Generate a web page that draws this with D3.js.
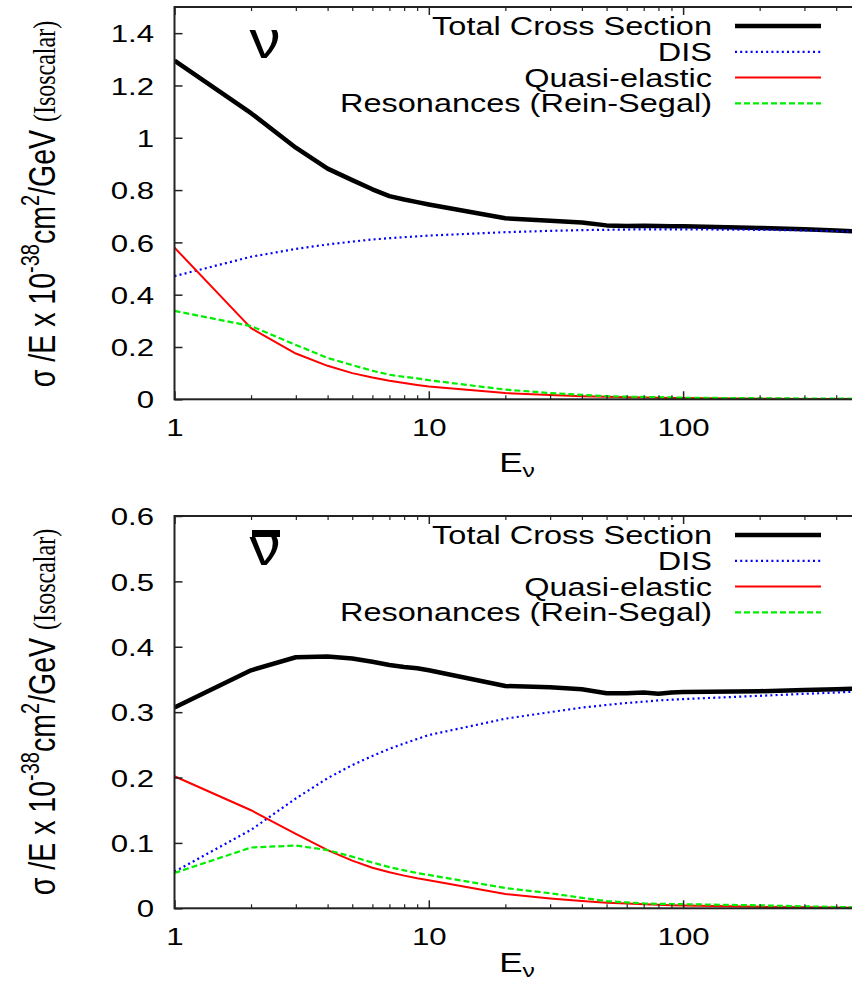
<!DOCTYPE html>
<html>
<head>
<meta charset="utf-8">
<script src="https://cdn.jsdelivr.net/npm/d3@7"></script>
<style>
  html, body { margin: 0; padding: 0; background: #fff; }
  svg { display: block; }
  text { font-family: "Liberation Sans", Arial, Helvetica, sans-serif; fill: #000; }
</style>
</head>
<body>
<svg id="chart" width="852" height="987"></svg>
<script>
// Neutrino energies (GeV) at which the cross sections are tabulated
const energies = [1, 2, 3, 4, 5, 6, 7, 8, 9, 10, 20, 30, 40, 50, 60, 70, 80, 90, 100, 200, 300, 400, 500];

// Neutrino (nu) cross sections, sigma/E in 1e-38 cm^2/GeV
const nuTotal = [1.295, 1.094, 0.962, 0.882, 0.838, 0.803, 0.777, 0.764, 0.754, 0.745, 0.692, 0.683, 0.676, 0.665, 0.663, 0.664, 0.663, 0.662, 0.662, 0.655, 0.650, 0.645, 0.641];
const nuDIS = [0.471, 0.545, 0.575, 0.592, 0.603, 0.611, 0.616, 0.620, 0.623, 0.626, 0.639, 0.644, 0.647, 0.648, 0.649, 0.650, 0.650, 0.650, 0.650, 0.648, 0.646, 0.643, 0.640];
const nuQE = [0.580, 0.272, 0.175, 0.128, 0.100, 0.083, 0.071, 0.062, 0.055, 0.049, 0.024, 0.016, 0.012, 0.0095, 0.008, 0.007, 0.006, 0.0053, 0.0048, 0.0024, 0.0016, 0.0012, 0.001];
const nuRes = [0.338, 0.280, 0.208, 0.158, 0.131, 0.109, 0.094, 0.086, 0.080, 0.073, 0.037, 0.024, 0.017, 0.012, 0.010, 0.009, 0.008, 0.007, 0.006, 0.004, 0.003, 0.0025, 0.002];

// Antineutrino (nu-bar) cross sections
const nubarTotal = [0.307, 0.364, 0.384, 0.385, 0.382, 0.377, 0.372, 0.369, 0.367, 0.364, 0.340, 0.338, 0.335, 0.329, 0.329, 0.330, 0.328, 0.330, 0.331, 0.332, 0.334, 0.335, 0.336];
const nubarDIS = [0.056, 0.120, 0.168, 0.199, 0.219, 0.233, 0.244, 0.252, 0.259, 0.265, 0.290, 0.300, 0.307, 0.311, 0.314, 0.316, 0.318, 0.319, 0.320, 0.325, 0.328, 0.330, 0.332];
const nubarQE = [0.202, 0.150, 0.114, 0.089, 0.073, 0.062, 0.055, 0.050, 0.046, 0.043, 0.022, 0.015, 0.011, 0.0086, 0.0072, 0.0062, 0.0054, 0.0048, 0.0043, 0.0022, 0.0015, 0.0011, 0.0009];
const nubarRes = [0.054, 0.093, 0.096, 0.089, 0.079, 0.070, 0.063, 0.058, 0.054, 0.051, 0.031, 0.023, 0.016, 0.011, 0.009, 0.0075, 0.0068, 0.0065, 0.0063, 0.0045, 0.003, 0.002, 0.0015];

// Legend entries and axis ticks
const seriesNames = ["Total Cross Section", "DIS", "Quasi-elastic", "Resonances (Rein-Segal)"];
const xMajorTicks = [1, 10, 100];
const xMinorTicks = [2, 3, 4, 5, 6, 7, 8, 9, 20, 30, 40, 50, 60, 70, 80, 90, 200, 300, 400, 500];
const nuYTicks = [0, 0.2, 0.4, 0.6, 0.8, 1.0, 1.2, 1.4];
const nubarYTicks = [0, 0.1, 0.2, 0.3, 0.4, 0.5, 0.6];

// Line styles for each series
const styles = [
  { color: "#000000", width: 4.5, dash: null },
  { color: "#0000ff", width: 2.2, dash: "2,3.2" },
  { color: "#ff0000", width: 2, dash: null },
  { color: "#00ee00", width: 2.2, dash: "6,3" }
];

const SX = 1.3; // horizontal glyph stretch used for all lettering
const svg = d3.select("#chart");

const x0 = 174.5, decade = 254.3;
const xScale = d3.scaleLog().domain([1, 500]).range([x0, x0 + decade * Math.log10(500)]);

function fmtY(v) {
  return v === 0 ? "0" : (Math.abs(v - Math.round(v)) < 1e-9 ? String(Math.round(v)) : String(+v.toFixed(1)));
}

function drawPanel(cfg) {
  const y = d3.scaleLinear().domain(cfg.yDomain).range([cfg.bottom, cfg.top]);
  const g = svg.append("g");
  const right = xScale.range()[1];

  const clipId = "clip-" + cfg.id;
  svg.append("clipPath").attr("id", clipId)
    .append("rect").attr("x", x0).attr("y", cfg.top).attr("width", right - x0).attr("height", cfg.bottom - cfg.top);

  // curves
  const line = d3.line().x((d, i) => xScale(energies[i])).y(d => y(d));
  const curves = g.append("g").attr("clip-path", `url(#${clipId})`);
  cfg.series.forEach((vals, k) => {
    const s = styles[k];
    curves.append("path")
      .datum(vals)
      .attr("d", line)
      .attr("fill", "none")
      .attr("stroke", s.color)
      .attr("stroke-width", s.width)
      .attr("stroke-linejoin", "round")
      .attr("stroke-dasharray", s.dash);
  });

  // frame
  g.append("rect")
    .attr("x", x0).attr("y", cfg.top)
    .attr("width", right - x0).attr("height", cfg.bottom - cfg.top)
    .attr("fill", "none").attr("stroke", "#222").attr("stroke-width", 2);

  // bottom axis: major with labels, minor without
  const bottomMajor = g.append("g").attr("transform", `translate(0,${cfg.bottom})`)
    .call(d3.axisBottom(xScale).tickValues(xMajorTicks).tickFormat(d3.format("d")).tickSize(-8));
  bottomMajor.select(".domain").remove();
  bottomMajor.selectAll("line").attr("stroke", "#222").attr("stroke-width", 1.5);
  bottomMajor.selectAll("text")
    .attr("font-size", 24).attr("dy", null).attr("y", 36.7)
    .attr("transform", `scale(${SX},1)`);

  const bottomMinor = g.append("g").attr("transform", `translate(0,${cfg.bottom})`)
    .call(d3.axisBottom(xScale).tickValues(xMinorTicks).tickFormat("").tickSize(-4));
  bottomMinor.select(".domain").remove();
  bottomMinor.selectAll("line").attr("stroke", "#222").attr("stroke-width", 1.2);

  // top (mirror) axis
  const topMajor = g.append("g").attr("transform", `translate(0,${cfg.top})`)
    .call(d3.axisTop(xScale).tickValues(xMajorTicks).tickFormat("").tickSize(-8));
  topMajor.select(".domain").remove();
  topMajor.selectAll("line").attr("stroke", "#222").attr("stroke-width", 1.5);
  const topMinor = g.append("g").attr("transform", `translate(0,${cfg.top})`)
    .call(d3.axisTop(xScale).tickValues(xMinorTicks).tickFormat("").tickSize(-4));
  topMinor.select(".domain").remove();
  topMinor.selectAll("line").attr("stroke", "#222").attr("stroke-width", 1.2);

  // left axis
  const left = g.append("g").attr("transform", `translate(${x0},0)`)
    .call(d3.axisLeft(y).tickValues(cfg.yTicks).tickFormat(fmtY).tickSize(-8).tickPadding(20.5 / SX));
  left.select(".domain").remove();
  left.selectAll("line").attr("stroke", "#222").attr("stroke-width", 1.5);
  left.selectAll("text")
    .attr("font-size", 24)
    .attr("dy", "0.36em")
    .attr("transform", `scale(${SX},1)`);

  // y-axis title
  const yl = g.append("text")
    .attr("transform", `translate(55,${cfg.ylabelY}) scale(${SX},1) rotate(-90)`)
    .attr("text-anchor", "middle")
    .attr("font-size", 28.5);
  yl.append("tspan").text("σ /E x 10");
  yl.append("tspan").attr("font-size", 20).attr("dy", -12).text("-38");
  yl.append("tspan").attr("dy", 12).text("cm");
  yl.append("tspan").attr("font-size", 20).attr("dy", -12).text("2");
  yl.append("tspan").attr("dy", 12).text("/GeV ");
  yl.append("tspan")
    .attr("font-family", "'Liberation Serif', 'Times New Roman', serif")
    .attr("font-size", 24).text("(Isoscalar)");

  // x-axis title
  const xl = g.append("text")
    .attr("transform", `translate(517,${cfg.bottom + cfg.xlabelOffset}) scale(${SX},1)`)
    .attr("text-anchor", "middle")
    .attr("font-size", 27);
  xl.append("tspan").text("E");
  xl.append("tspan").attr("font-size", 19).attr("dy", 5).text("ν");

  // particle symbol
  g.append("text")
    .attr("transform", `translate(265,${cfg.top + (cfg.bar ? 49 : 51)}) scale(1.15,1)`)
    .attr("text-anchor", "middle")
    .attr("font-family", "'Liberation Serif', 'Times New Roman', serif")
    .attr("font-size", 54)
    .text("ν");
  if (cfg.bar) {
    g.append("rect").attr("x", 252).attr("y", cfg.top + 14).attr("width", 28).attr("height", 7).attr("fill", "#000");
  }

  // legend
  const leg = g.append("g");
  seriesNames.forEach((name, k) => {
    const ly = cfg.top + 19 + k * 25.8;
    leg.append("text")
      .attr("transform", `translate(712,${ly + 9}) scale(${SX},1)`)
      .attr("text-anchor", "end")
      .attr("font-size", 25)
      .text(name);
    const s = styles[k];
    leg.append("line")
      .attr("x1", 735).attr("x2", 821).attr("y1", ly).attr("y2", ly)
      .attr("stroke", s.color).attr("stroke-width", s.width)
      .attr("stroke-dasharray", s.dash);
  });
}

drawPanel({
  id: "nu", top: 7, bottom: 399.3, yDomain: [0, 1.5], yTicks: nuYTicks, ylabelY: 204, xlabelOffset: 72.7,
  series: [nuTotal, nuDIS, nuQE, nuRes], bar: false
});
drawPanel({
  id: "nubar", top: 516, bottom: 908.3, yDomain: [0, 0.6], yTicks: nubarYTicks, ylabelY: 712, xlabelOffset: 64,
  series: [nubarTotal, nubarDIS, nubarQE, nubarRes], bar: true
});
</script>
</body>
</html>
